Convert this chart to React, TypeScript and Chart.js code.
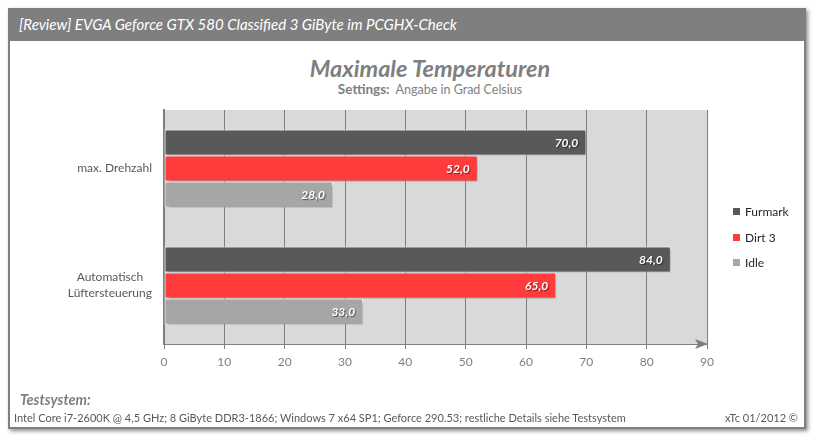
import React, { useEffect, useRef } from "react";
import { Chart, registerables } from "chart.js";

Chart.register(...registerables);

const categoryLabels: string[][] = [["max. Drehzahl"], ["Automatisch", "Lüftersteuerung"]];
const seriesNames = ["Furmark", "Dirt 3", "Idle"];
const furmark = [70, 84];
const dirt3 = [52, 65];
const idle = [28, 33];
const seriesColors = ["#595959", "#ff3b3b", "#a6a6a6"];
const xMin = 0;
const xMax = 90;
const xStep = 10;

const FONT = "Lato, 'Open Sans', sans-serif";
const AXIS_GRAY = "#7f7f7f";

const plotBgPlugin = {
  id: "plotBg",
  beforeDraw(chart: any) {
    const { ctx, chartArea } = chart;
    ctx.save();
    ctx.fillStyle = "#d9d9d9";
    ctx.fillRect(chartArea.left, chartArea.top, chartArea.right - chartArea.left, chartArea.bottom - chartArea.top);
    ctx.restore();
  },
};

const shadowPlugin = {
  id: "barShadow",
  beforeDatasetsDraw(chart: any) {
    const ctx = chart.ctx;
    ctx.save();
    ctx.shadowColor = "rgba(0,0,0,0.35)";
    ctx.shadowOffsetX = 2;
    ctx.shadowOffsetY = 2;
    ctx.shadowBlur = 3;
  },
  afterDatasetsDraw(chart: any) {
    chart.ctx.restore();
  },
};

const valueLabelPlugin = {
  id: "valueLabels",
  afterDatasetsDraw(chart: any) {
    const ctx = chart.ctx;
    ctx.save();
    ctx.font = `italic bold 12px ${FONT}`;
    ctx.fillStyle = "#ffffff";
    ctx.textAlign = "right";
    ctx.textBaseline = "middle";
    ctx.shadowColor = "rgba(0,0,0,0.5)";
    ctx.shadowOffsetX = 1;
    ctx.shadowOffsetY = 1;
    ctx.shadowBlur = 1;
    chart.data.datasets.forEach((ds: any, di: number) => {
      const meta = chart.getDatasetMeta(di);
      meta.data.forEach((bar: any, i: number) => {
        const v = ds.data[i];
        const txt = v.toFixed(1).replace(".", ",");
        ctx.fillText(txt, bar.x - 8, bar.y + 1);
      });
    });
    ctx.restore();
  },
};

const categoryLabelPlugin = {
  id: "categoryLabels",
  afterDraw(chart: any) {
    const ctx = chart.ctx;
    const yScale = chart.scales.y;
    const right = chart.chartArea.left - 12;
    ctx.save();
    ctx.font = `12px ${FONT}`;
    ctx.fillStyle = "#595959";
    ctx.textAlign = "center";
    ctx.textBaseline = "middle";
    const lineH = 16;
    categoryLabels.forEach((lines, i) => {
      const y = yScale.getPixelForValue(i);
      const maxW = Math.max(...lines.map((l) => ctx.measureText(l).width));
      const cx = right - maxW / 2;
      const y0 = y - ((lines.length - 1) * lineH) / 2;
      lines.forEach((l, j) => ctx.fillText(l, cx, y0 + j * lineH));
    });
    ctx.restore();
  },
};

const arrowPlugin = {
  id: "axisArrow",
  afterDraw(chart: any) {
    const ctx = chart.ctx;
    const { right, bottom } = chart.chartArea;
    ctx.save();
    ctx.fillStyle = AXIS_GRAY;
    ctx.beginPath();
    ctx.moveTo(right + 1, bottom);
    ctx.lineTo(right - 12, bottom - 5);
    ctx.lineTo(right - 9, bottom);
    ctx.lineTo(right - 12, bottom + 5);
    ctx.closePath();
    ctx.fill();
    ctx.restore();
  },
};

function BarChart() {
  const ref = useRef<HTMLCanvasElement>(null);
  useEffect(() => {
    if (!ref.current) return;
    const chart = new Chart(ref.current, {
      type: "bar",
      data: {
        labels: categoryLabels.map((l) => l.join(" ")),
        datasets: [furmark, dirt3, idle].map((d, i) => ({
          label: seriesNames[i],
          data: d,
          backgroundColor: seriesColors[i],
          borderColor: "#ffffff",
          borderWidth: 1,
          borderSkipped: false,
          categoryPercentage: 0.667,
          barPercentage: 1,
        })),
      },
      options: {
        indexAxis: "y",
        animation: false,
        responsive: false,
        maintainAspectRatio: false,
        layout: { padding: { left: 164, right: 109, top: 110, bottom: 64 } },
        plugins: {
          legend: { display: false },
          tooltip: { enabled: false },
          title: { display: false },
        },
        scales: {
          x: {
            type: "linear",
            min: xMin,
            max: xMax,
            ticks: {
              stepSize: xStep,
              color: AXIS_GRAY,
              font: { family: FONT, size: 12 },
              padding: 6,
            },
            grid: { color: AXIS_GRAY, lineWidth: 1, tickLength: 5, drawTicks: true },
            border: { color: AXIS_GRAY, width: 1 },
            afterFit: (s: any) => {
              s.height = 30;
            },
          },
          y: {
            type: "category",
            ticks: { display: false },
            grid: { display: false, drawTicks: false },
            border: { color: AXIS_GRAY, width: 2 },
            afterFit: (s: any) => {
              s.width = 0;
            },
          },
        },
      } as any,
      plugins: [plotBgPlugin, shadowPlugin, valueLabelPlugin, categoryLabelPlugin, arrowPlugin],
    });
    return () => chart.destroy();
  }, []);
  return <canvas ref={ref} width={816} height={438} style={{ position: "absolute", left: 0, top: 0, width: 816, height: 438 }} />;
}

export default function App() {
  return (
    <div style={{ position: "absolute", left: 0, top: 0, width: 816, height: 438, background: "#fff", fontFamily: FONT, overflow: "hidden" }}>
      <div
        style={{
          position: "absolute",
          left: 8,
          top: 8,
          width: 798,
          height: 421,
          boxSizing: "border-box",
          border: `2px solid ${AXIS_GRAY}`,
          boxShadow: "2px 2px 4px rgba(0,0,0,0.45)",
          background: "#fff",
        }}
      />
      <div
        style={{
          position: "absolute",
          left: 8,
          top: 8,
          width: 798,
          height: 33,
          background: AXIS_GRAY,
          color: "#fff",
          fontStyle: "italic",
          fontSize: 15,
          lineHeight: "33px",
          paddingLeft: 11,
          boxSizing: "border-box",
          whiteSpace: "nowrap",
        }}
      >
        [Review] EVGA Geforce GTX 580 Classified 3 GiByte im PCGHX-Check
      </div>
      <div style={{ position: "absolute", left: 0, top: 53, width: 860, textAlign: "center", color: AXIS_GRAY, fontWeight: "bold", fontStyle: "italic", fontSize: 23.5, lineHeight: "30px" }}>
        Maximale Temperaturen
      </div>
      <div style={{ position: "absolute", left: 0, top: 81, width: 860, textAlign: "center", color: AXIS_GRAY, fontSize: 12.5, lineHeight: "16px" }}>
        <span style={{ fontWeight: "bold", fontSize: 13.5 }}>Settings:</span>&nbsp; Angabe in Grad Celsius
      </div>
      <BarChart />
      <div style={{ position: "absolute", left: 733, top: 199, color: "#262626", fontSize: 12 }}>
        {seriesNames.map((n, i) => (
          <div key={n} style={{ display: "flex", alignItems: "center", height: 25.5 }}>
            <span style={{ display: "inline-block", width: 7, height: 7, background: seriesColors[i], marginRight: 5 }} />
            {n}
          </div>
        ))}
      </div>
      <div style={{ position: "absolute", left: 20, top: 391, color: AXIS_GRAY, fontWeight: "bold", fontStyle: "italic", fontSize: 14.5, lineHeight: "18px" }}>
        Testsystem:
      </div>
      <div style={{ position: "absolute", left: 14, top: 411, color: "#595959", fontSize: 11, lineHeight: "14px", whiteSpace: "nowrap" }}>
        Intel Core i7-2600K @ 4,5 GHz; 8 GiByte DDR3-1866; Windows 7 x64 SP1; Geforce 290.53; restliche Details siehe Testsystem
      </div>
      <div style={{ position: "absolute", right: 18, top: 411, color: "#595959", fontSize: 11, lineHeight: "14px", whiteSpace: "nowrap" }}>
        xTc 01/2012 ©
      </div>
    </div>
  );
}
